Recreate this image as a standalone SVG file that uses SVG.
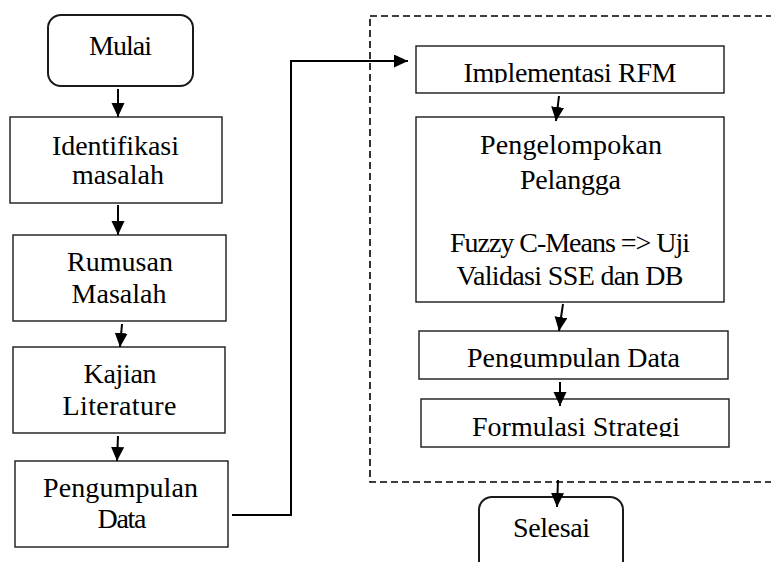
<svg xmlns="http://www.w3.org/2000/svg" width="771" height="562" viewBox="0 0 771 562">
<style>
.box{fill:#fff;stroke:#1a1a1a;stroke-width:1.4}
.rbox{fill:#fff;stroke:#1a1a1a;stroke-width:2}
.t{font-family:"Liberation Serif","Times New Roman",serif;font-size:28px;fill:#000;text-anchor:middle}
.c{fill:none;stroke:#000;stroke-width:2}
.dash{fill:none;stroke:#000;stroke-width:1.6;stroke-dasharray:7 4}
</style>
<defs>
<marker id="ah" markerUnits="userSpaceOnUse" markerWidth="14" markerHeight="14" refX="14" refY="6.5" orient="auto">
<path d="M0,0 L14,6.5 L0,13 z" fill="#000"/>
</marker>
<clipPath id="c1"><rect x="416" y="46" width="308" height="37"/></clipPath>
<clipPath id="c2"><rect x="419" y="331" width="309" height="37"/></clipPath>
<clipPath id="c3"><rect x="421" y="399" width="308" height="38"/></clipPath>
</defs>
<rect class="dash" x="370" y="16" width="430" height="466"/>
<g id="mulai"><rect class="rbox" x="48" y="15" width="145" height="71" rx="13"/><text class="t" x="120.5" y="55" textLength="63">Mulai</text></g>
<g id="identifikasi"><rect class="box" x="10" y="117" width="212" height="86"/><text class="t" x="115.5" y="155" textLength="127">Identifikasi</text><text class="t" x="118" y="184" textLength="92">masalah</text></g>
<g id="rumusan"><rect class="box" x="13" y="235" width="213" height="86"/><text class="t" x="120" y="271" textLength="106">Rumusan</text><text class="t" x="119" y="303" textLength="95">Masalah</text></g>
<g id="kajian"><rect class="box" x="13" y="347" width="212" height="86"/><text class="t" x="120" y="383" textLength="73">Kajian</text><text class="t" x="119.5" y="415" textLength="114">Literature</text></g>
<g id="pengumpulan1"><rect class="box" x="15" y="461" width="213" height="86"/><text class="t" x="120.5" y="497" textLength="155">Pengumpulan</text><text class="t" x="122" y="528" textLength="49">Data</text></g>
<g id="rfm"><rect class="box" x="416" y="46" width="308" height="47"/><text class="t" x="570" y="82" textLength="213" clip-path="url(#c1)">Implementasi RFM</text></g>
<g id="pengelompokan"><rect class="box" x="416" y="117" width="308" height="185"/><text class="t" x="571" y="154" textLength="182">Pengelompokan</text><text class="t" x="570.5" y="189" textLength="101">Pelangga</text><text class="t" x="570" y="252" textLength="240">Fuzzy C-Means =&gt; Uji</text><text class="t" x="570" y="285" textLength="227">Validasi SSE dan DB</text></g>
<g id="pengumpulan2"><rect class="box" x="419" y="331" width="309" height="48"/><text class="t" x="573.5" y="367" textLength="213" clip-path="url(#c2)">Pengumpulan Data</text></g>
<g id="formulasi"><rect class="box" x="421" y="399" width="308" height="48"/><text class="t" x="576" y="436" textLength="208" clip-path="url(#c3)">Formulasi Strategi</text></g>
<g id="selesai"><rect class="rbox" x="479" y="497" width="144" height="90" rx="13"/><text class="t" x="551.5" y="537" textLength="77">Selesai</text></g>
<g id="connectors">
<line class="c" x1="118" y1="89" x2="118" y2="117" marker-end="url(#ah)"/>
<line class="c" x1="118" y1="205" x2="118" y2="235" marker-end="url(#ah)"/>
<line class="c" x1="122" y1="324" x2="120" y2="347" marker-end="url(#ah)"/>
<line class="c" x1="118" y1="436" x2="117" y2="461" marker-end="url(#ah)"/>
<polyline class="c" points="232,515 291,515 291,61 408,61" marker-end="url(#ah)"/>
<line class="c" x1="559" y1="96" x2="556" y2="121" marker-end="url(#ah)"/>
<line class="c" x1="563" y1="304" x2="559" y2="331" marker-end="url(#ah)"/>
<line class="c" x1="560" y1="382" x2="560" y2="406" marker-end="url(#ah)"/>
<line class="c" x1="558" y1="480" x2="557" y2="507" marker-end="url(#ah)"/>
</g>
</svg>
